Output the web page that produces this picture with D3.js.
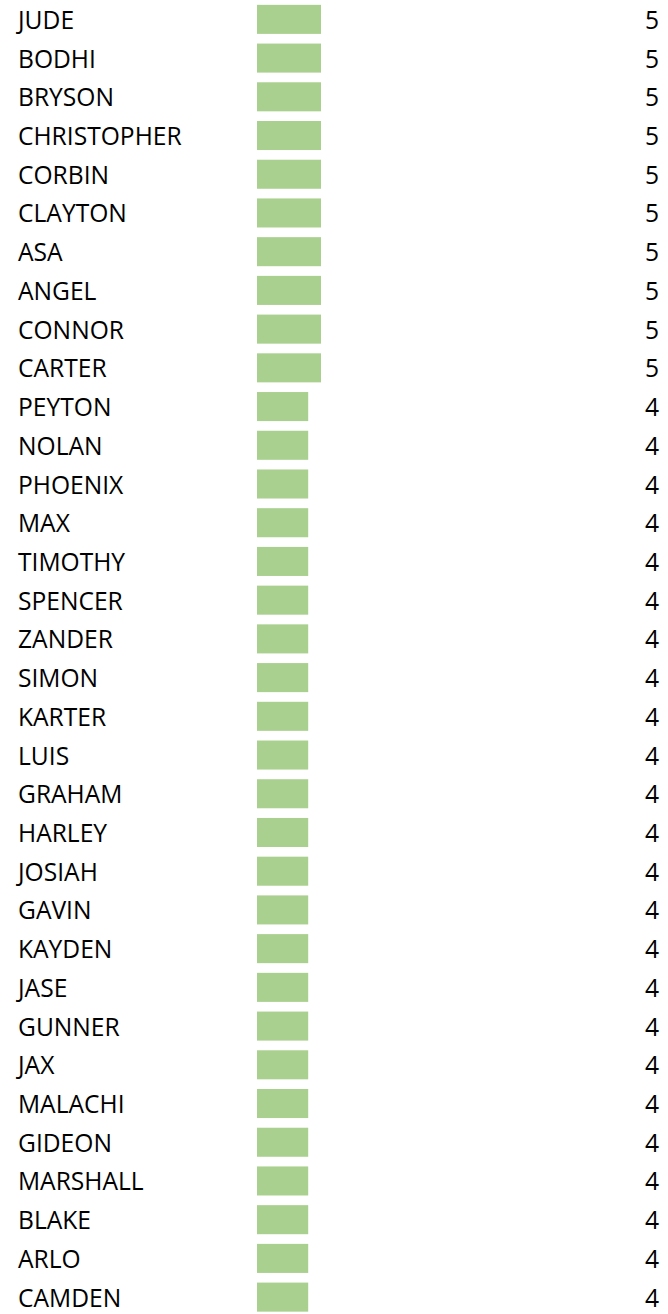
<!DOCTYPE html>
<html>
<head>
<meta charset="utf-8">
<script src="https://cdn.jsdelivr.net/npm/d3@7"></script>
<style>
  body { margin: 0; background: #fff; }
  text { font-family: "Open Sans", "Noto Sans", sans-serif; fill: #000; }
</style>
</head>
<body>
<div id="chart"></div>
<script>
// names and counts, top to bottom
var names = ["JUDE", "BODHI", "BRYSON", "CHRISTOPHER", "CORBIN", "CLAYTON", "ASA", "ANGEL",
  "CONNOR", "CARTER", "PEYTON", "NOLAN", "PHOENIX", "MAX", "TIMOTHY", "SPENCER", "ZANDER",
  "SIMON", "KARTER", "LUIS", "GRAHAM", "HARLEY", "JOSIAH", "GAVIN", "KAYDEN", "JASE",
  "GUNNER", "JAX", "MALACHI", "GIDEON", "MARSHALL", "BLAKE", "ARLO", "CAMDEN"];
var counts = [5, 5, 5, 5, 5, 5, 5, 5, 5, 5, 4, 4, 4, 4, 4, 4, 4, 4, 4, 4, 4, 4, 4, 4, 4, 4,
  4, 4, 4, 4, 4, 4, 4, 4];

var width = 668,
    height = 1314;

var svg = d3.select("#chart").append("svg")
  .attr("width", width)
  .attr("height", height);

// bar length: 5 -> 64px
var xScale = d3.scaleLinear()
  .domain([0, 5])
  .range([257, 321]);

var yScale = d3.scaleBand()
  .domain(d3.range(names.length))
  .range([0, names.length * 38.72])
  .paddingInner(0.25)
  .paddingOuter(0.125);

var rows = svg.selectAll("g.row")
  .data(names)
  .enter().append("g")
  .attr("class", "row");

rows.append("rect")
  .attr("x", xScale(0))
  .attr("y", function(d, i){ return yScale(i); })
  .attr("width", function(d, i){ return xScale(counts[i]) - xScale(0); })
  .attr("height", yScale.bandwidth())
  .style("fill", "#a9d08e");

rows.append("text")
  .attr("x", 18)
  .attr("y", function(d, i){ return yScale(i) + yScale.bandwidth() / 2 + 9.5; })
  .style("font-size", "24.6px")
  .text(function(d){ return d; });

rows.append("text")
  .attr("x", 659)
  .attr("y", function(d, i){ return yScale(i) + yScale.bandwidth() / 2 + 9.5; })
  .attr("text-anchor", "end")
  .style("font-size", "24.6px")
  .text(function(d, i){ return counts[i]; });
</script>
</body>
</html>
